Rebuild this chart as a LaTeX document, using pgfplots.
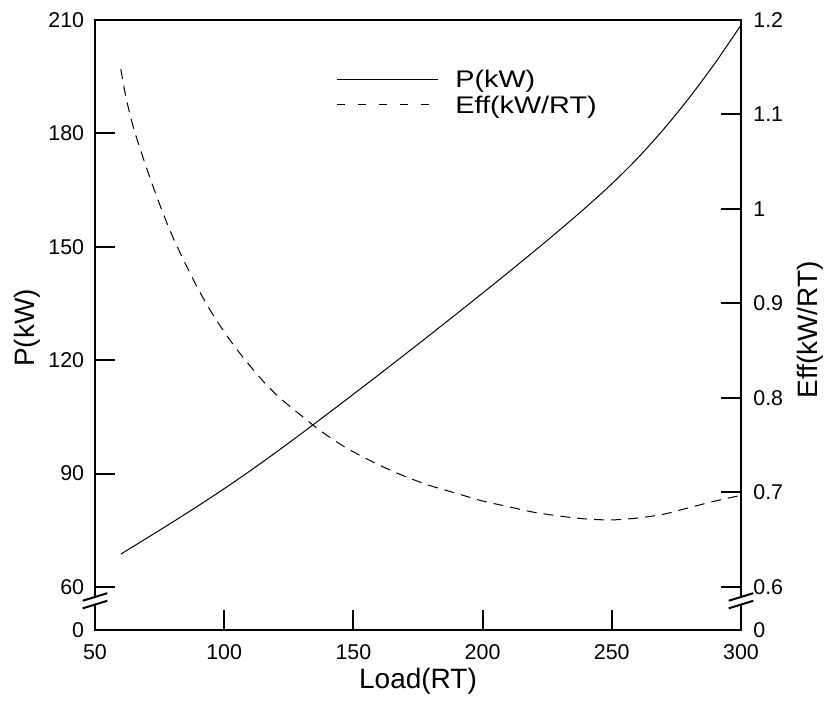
\documentclass[border=0pt]{standalone}
\usepackage{fontspec}
\setmainfont{Liberation Sans}
\newfontfamily\legfont[FakeStretch=1.2]{Liberation Sans}
\usepackage{pgfplots}
\pgfplotsset{compat=1.18}
\pgfplotstableread{
x P
60 68.7
70 72.9
80 77.15
90 81.5
100 86.0
110 90.7
120 95.6
130 100.65
140 105.8
150 111.0
160 116.25
170 121.55
180 126.9
190 132.3
200 137.75
210 143.25
220 148.85
230 154.55
240 160.45
250 166.65
260 173.45
270 181.05
280 189.45
290 198.65
300 208.65
}\Ptable
\pgfplotstableread{
x E
60 1.148
62 1.118
65 1.085
70 1.043
75 1.005
80 0.971
85 0.942
90 0.915
95 0.891
100 0.870
105 0.851
110 0.834
115 0.818
120 0.804
125 0.792
130 0.781
135 0.770
140 0.760
145 0.751
150 0.743
160 0.729
170 0.717
180 0.707
190 0.699
200 0.691
210 0.685
220 0.679
230 0.675
240 0.672
250 0.671
260 0.673
270 0.677
280 0.684
290 0.691
300 0.697
}\Etable
\begin{document}
\begin{tikzpicture}
\pgfplotsset{
 common/.style={scale only axis, width=323pt, height=305pt, xmin=50, xmax=300,
  tick align=inside, major tick length=10pt,
  every tick/.style={black, line width=1pt},
  axis line style={line width=1pt},
  /pgf/number format/assume math mode=true,
  tick label style={font=\fontsize{10.7}{12}\selectfont},
  label style={font=\fontsize{14}{16}\selectfont},
 }
}
\begin{axis}[common,
  ymin=48.62, ymax=210,
  xtick={50,100,...,300}, xtick pos=bottom,
  ytick={48.62,60,90,120,150,180,210}, yticklabels={0,60,90,120,150,180,210},
  ytick pos=left,
  xticklabel style={anchor=base, inner sep=0pt, yshift=-15pt},
  yticklabel style={anchor=east, inner sep=0pt, xshift=-5.25pt},
  xlabel={Load(RT)}, ylabel={P(kW)},
  xlabel style={at={([yshift=-29.5pt]rel axis cs:0.5,0)}, anchor=base, inner sep=0pt},
  ylabel style={at={([xshift=-30pt]rel axis cs:0,0.495)}, anchor=base, inner sep=0pt},
]
\addplot[black, line width=0.5pt, smooth] table[x=x, y=P] {\Ptable};
\coordinate (LB) at (axis cs:50,56.35);
\coordinate (RB) at (axis cs:300,56.35);
\coordinate (SW) at (rel axis cs:0,0);
\coordinate (NE) at (rel axis cs:1,1);
\end{axis}
\begin{axis}[common,
  ymin=0.5545, ymax=1.2, hide x axis,
  ytick pos=right, yticklabel pos=right,
  ytick={0.5545,0.6,0.7,0.8,0.9,1.0,1.1,1.2}, yticklabels={0,0.6,0.7,0.8,0.9,1,1.1,1.2},
  yticklabel style={anchor=west, inner sep=0pt, xshift=6pt},
  ylabel={Eff(kW/RT)},
  ylabel style={at={([xshift=38pt]rel axis cs:1,0.492)}, anchor=base, inner sep=0pt},
  legend style={draw=none, fill=none, at={(rel axis cs:0.373,0.9174)}, anchor=north west,
    font=\legfont\fontsize{12}{14}\selectfont, inner sep=0pt, row sep=4.2pt, column sep=4pt,
    nodes={inner sep=0pt, text height=8.6pt, text depth=0pt}},
  legend cell align=left,
  legend image code/.code={\draw[#1] (0pt,0pt) -- (50.5pt,0pt); \path (55pt,0pt);},
]
\addlegendimage{black, line width=0.5pt}
\addlegendentry{P(kW)}
\addlegendimage{black, line width=0.5pt, dash pattern=on 4pt off 6.5pt}
\addlegendentry{Eff(kW/RT)}
\addplot[black, line width=0.5pt, smooth, dash pattern=on 5pt off 3.5pt, forget plot] table[x=x, y=E] {\Etable};
\end{axis}
\foreach \B in {LB,RB}{
  \fill[white] ([shift={(-6.15pt,0pt)}]\B) -- ([shift={(6.15pt,3.8pt)}]\B) -- ([shift={(6.15pt,0pt)}]\B) -- ([shift={(-6.15pt,-3.8pt)}]\B) -- cycle;
  \draw[line width=1pt] ([shift={(-6.15pt,0pt)}]\B) -- ([shift={(6.15pt,3.8pt)}]\B);
  \draw[line width=1pt] ([shift={(-6.15pt,-3.8pt)}]\B) -- ([shift={(6.15pt,0pt)}]\B);
}
\path ([shift={(-47.5pt,-35.5pt)}]SW) rectangle ([shift={(42.5pt,10pt)}]NE);
\end{tikzpicture}
\end{document}
